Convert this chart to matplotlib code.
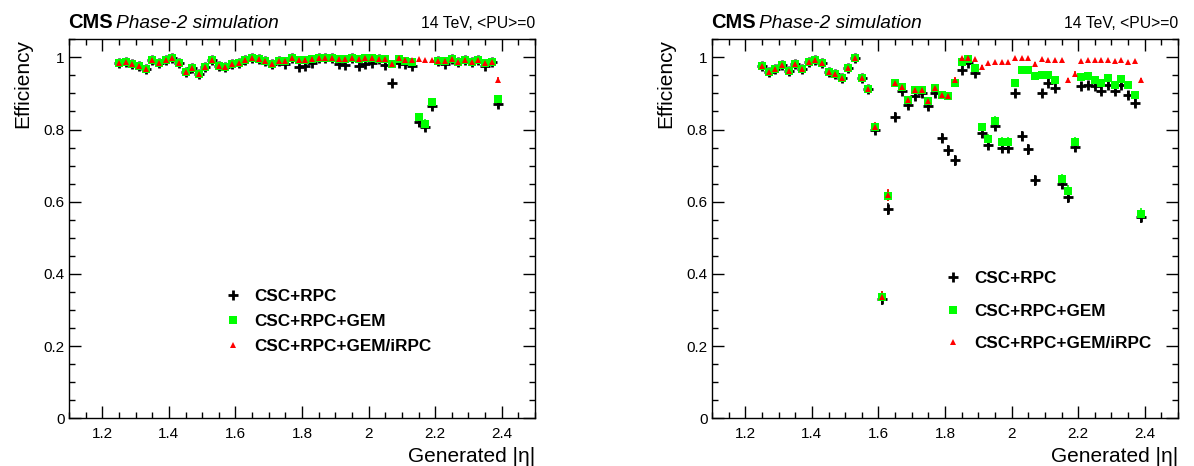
import numpy as np
import matplotlib
matplotlib.use("Agg")
import matplotlib.pyplot as plt
from matplotlib.ticker import MultipleLocator, FixedLocator
from matplotlib.lines import Line2D

plt.rcParams['font.family'] = ['Liberation Sans', 'DejaVu Sans']

# ---------------- data ----------------
eta = [1.25, 1.27, 1.29, 1.31, 1.33, 1.35, 1.37, 1.39, 1.41, 1.43,
       1.45, 1.47, 1.49, 1.51, 1.53, 1.55, 1.57, 1.59, 1.61, 1.63,
       1.65, 1.67, 1.69, 1.71, 1.73, 1.75, 1.77, 1.79, 1.81, 1.83,
       1.85, 1.87, 1.89, 1.91, 1.93, 1.95, 1.97, 1.99, 2.01, 2.03,
       2.05, 2.07, 2.09, 2.11, 2.13, 2.15, 2.17, 2.19, 2.21, 2.23,
       2.25, 2.27, 2.29, 2.31, 2.33, 2.35, 2.37, 2.39]

# Left panel
left_irpc = [0.984, 0.988, 0.982, 0.975, 0.967, 0.993, 0.984, 0.993, 0.998, 0.983,
             0.960, 0.970, 0.955, 0.974, 0.994, 0.976, 0.974, 0.981, 0.983, 0.992,
             0.998, 0.996, 0.991, 0.982, 0.991, 0.991, 0.997, 0.994, 0.992, 0.995,
             0.999, 0.999, 0.997, 0.995, 0.995, 0.998, 0.995, 0.997, 0.998, 0.995,
             0.995, 0.981, 0.998, 0.994, 0.994, 0.995, 0.994, 0.994, 0.991, 0.989,
             0.995, 0.986, 0.992, 0.986, 0.992, 0.985, 0.988, 0.938]
left_gem = [0.984, 0.988, 0.982, 0.975, 0.967, 0.993, 0.984, 0.993, 0.998, 0.983,
            0.960, 0.970, 0.955, 0.974, 0.994, 0.976, 0.974, 0.981, 0.983, 0.992,
            0.998, 0.996, 0.991, 0.982, 0.991, 0.991, 0.997, 0.994, 0.992, 0.995,
            0.999, 0.999, 0.997, 0.995, 0.995, 0.998, 0.995, 0.997, 0.998, 0.995,
            0.995, 0.981, 0.996, 0.991, 0.988, 0.834, 0.816, 0.876, 0.991, 0.989,
            0.995, 0.986, 0.992, 0.986, 0.992, 0.985, 0.988, 0.885]
left_rpc = [0.984, 0.988, 0.982, 0.975, 0.967, 0.993, 0.984, 0.993, 0.998, 0.983,
            0.960, 0.970, 0.955, 0.974, 0.994, 0.976, 0.974, 0.981, 0.983, 0.992,
            0.998, 0.996, 0.991, 0.982, 0.991, 0.982, 0.997, 0.972, 0.975, 0.983,
            0.999, 0.999, 0.997, 0.982, 0.979, 0.998, 0.977, 0.981, 0.983, 0.995,
            0.979, 0.929, 0.985, 0.982, 0.975, 0.820, 0.808, 0.864, 0.991, 0.982,
            0.995, 0.986, 0.992, 0.986, 0.992, 0.977, 0.988, 0.871]

# Right panel
right_irpc = [0.975, 0.960, 0.968, 0.980, 0.963, 0.982, 0.967, 0.988, 0.993, 0.983,
              0.959, 0.955, 0.944, 0.971, 0.997, 0.943, 0.913, 0.807, 0.336, 0.619,
              0.930, 0.919, 0.883, 0.910, 0.909, 0.879, 0.916, 0.895, 0.894, 0.937,
              0.998, 0.999, 0.996, 0.972, 0.984, 0.986, 0.986, 0.986, 0.999, 0.999,
              0.998, 0.982, 0.995, 0.994, 0.992, 0.994, 0.936, 0.954, 0.989, 0.992,
              0.994, 0.992, 0.992, 0.990, 0.994, 0.987, 0.989, 0.936]
right_gem = [0.975, 0.960, 0.968, 0.980, 0.963, 0.982, 0.967, 0.988, 0.993, 0.983,
             0.959, 0.955, 0.944, 0.971, 0.997, 0.943, 0.913, 0.806, 0.336, 0.617,
             0.930, 0.919, 0.883, 0.910, 0.909, 0.879, 0.916, 0.895, 0.894, 0.929,
             0.988, 0.995, 0.970, 0.806, 0.774, 0.825, 0.765, 0.765, 0.929, 0.966,
             0.966, 0.947, 0.951, 0.951, 0.937, 0.662, 0.631, 0.765, 0.945, 0.949,
             0.938, 0.929, 0.943, 0.924, 0.940, 0.924, 0.897, 0.567]
right_rpc = [0.975, 0.960, 0.968, 0.980, 0.963, 0.982, 0.967, 0.988, 0.993, 0.983,
             0.959, 0.955, 0.944, 0.971, 0.997, 0.943, 0.913, 0.800, 0.330, 0.581,
             0.836, 0.908, 0.869, 0.892, 0.900, 0.865, 0.901, 0.776, 0.742, 0.715,
             0.965, 0.984, 0.958, 0.790, 0.757, 0.811, 0.750, 0.749, 0.900, 0.781,
             0.745, 0.659, 0.900, 0.929, 0.915, 0.650, 0.613, 0.751, 0.922, 0.924,
             0.922, 0.908, 0.924, 0.908, 0.924, 0.896, 0.874, 0.559]

labels = ["CSC+RPC", "CSC+RPC+GEM", "CSC+RPC+GEM/iRPC"]
colors = ["black", "#00ff00", "#ff0000"]
xticks = [1.2, 1.4, 1.6, 1.8, 2.0, 2.2, 2.4]
xticklabels = ["1.2", "1.4", "1.6", "1.8", "2", "2.2", "2.4"]
yticks = [0, 0.2, 0.4, 0.6, 0.8, 1.0]
yticklabels = ["0", "0.2", "0.4", "0.6", "0.8", "1"]

N_EVT = 900.0  # for binomial error bar size

W, H = 1194, 466
fig = plt.figure(figsize=(W / 100, H / 100), dpi=100)

MARKERS = [('+', 6.5, 2.0), ('s', 5.8, 0.0), ('^', 5.0, 0.0)]


def px_axes(x0, x1, ytop, ybot):
    return fig.add_axes([x0 / W, 1 - ybot / H, (x1 - x0) / W, (ybot - ytop) / H])


def style_axes(ax):
    ax.set_xlim(1.1, 2.5)
    ax.set_ylim(0, 1.05)
    ax.xaxis.set_major_locator(FixedLocator(xticks))
    ax.set_xticklabels(xticklabels)
    ax.xaxis.set_minor_locator(MultipleLocator(0.05))
    ax.yaxis.set_major_locator(FixedLocator(yticks))
    ax.set_yticklabels(yticklabels)
    ax.yaxis.set_minor_locator(MultipleLocator(0.05))
    ax.tick_params(which='both', direction='in', top=True, right=True,
                   labelsize=11, colors='black', width=1.0)
    ax.tick_params(which='major', length=8.5)
    ax.tick_params(which='minor', length=4.3)
    ax.tick_params(axis='x', which='major', pad=6)
    ax.tick_params(axis='y', which='major', pad=3)
    for s in ax.spines.values():
        s.set_linewidth(1.0)
    ax.set_xlabel("Generated |\u03b7|", fontsize=15, loc='right', labelpad=4.5)
    ax.set_ylabel("Efficiency", fontsize=15, loc='top', labelpad=8)


def draw(ax, rpc, gem, irpc):
    x = np.array(eta)
    for vals, (mk, ms, mew), col in zip((rpc, gem, irpc), MARKERS, colors):
        v = np.array(vals)
        err = np.sqrt(np.clip(v * (1 - v), 1e-5, None) / N_EVT)
        ax.errorbar(x, v, yerr=err, fmt=mk, color=col, ms=ms, mew=mew,
                    mec=col, mfc=col, ecolor=col, elinewidth=1.2, capsize=0, zorder=3)


def legend(ax, anchor, spacing):
    handles = [Line2D([], [], linestyle='none', marker=mk, ms=ms, mew=mew,
                      color=col, mec=col, mfc=col)
               for (mk, ms, mew), col in zip(MARKERS, colors)]
    ax.legend(handles, labels, loc='center left', bbox_to_anchor=anchor, frameon=False,
              borderpad=0, borderaxespad=0, handlelength=1.0, handletextpad=0.75,
              labelspacing=spacing, prop={'weight': 'bold', 'size': 12.3})


# Left
axL = px_axes(69, 535, 39.3, 418.3)
style_axes(axL)
draw(axL, left_rpc, left_gem, left_irpc)
legend(axL, (0.333, 0.256), 0.58)

# Right
axR = px_axes(712, 1178, 39.3, 418.3)
style_axes(axR)
draw(axR, right_rpc, right_gem, right_irpc)
legend(axR, (0.498, 0.283), 1.02)

# Header texts
for (x0, x1) in [(69, 535), (712, 1178)]:
    fig.text(x0 / W - 0.001, 1 - 28 / H, "CMS", fontsize=14.5, fontweight='bold', ha='left', va='baseline')
    fig.text((x0 + 47) / W, 1 - 28 / H, "Phase-2 simulation", fontsize=13.8, fontstyle='italic',
             ha='left', va='baseline')
    fig.text(x1 / W, 1 - 28 / H, "14 TeV, <PU>=0", fontsize=11.3, ha='right', va='baseline')

fig.savefig("out.png", dpi=100)
